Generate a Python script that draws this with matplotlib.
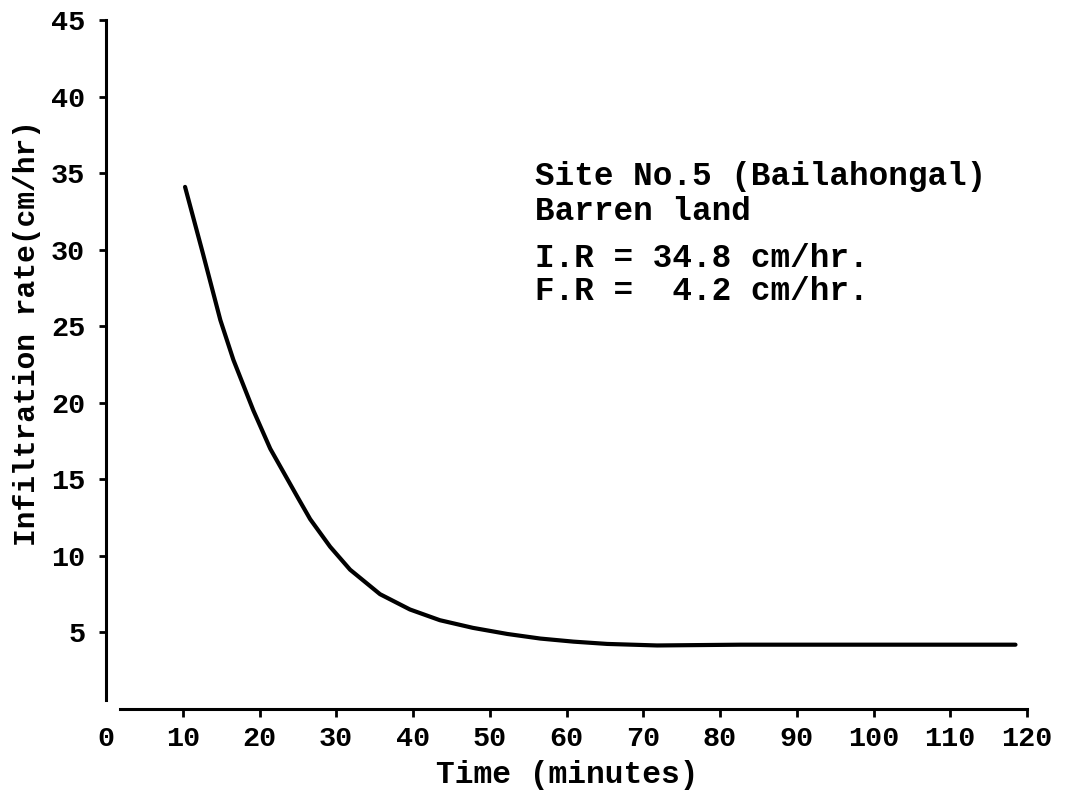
import matplotlib
matplotlib.use("Agg")
import matplotlib.pyplot as plt

# curve
time_min = [10.3, 12.6, 14.9, 16.6, 19.2, 21.4, 25.0, 26.6, 29.2, 31.8, 35.7,
            39.6, 43.5, 47.8, 52.3, 56.6, 60.9, 65.3, 71.8, 82.7, 95.0,
            110.0, 118.5]
infil_rate = [34.1, 29.8, 25.4, 22.8, 19.5, 17.0, 13.8, 12.4, 10.6, 9.1, 7.5,
              6.5, 5.8, 5.3, 4.9, 4.6, 4.4, 4.25, 4.15, 4.2, 4.2,
              4.2, 4.2]

x_ticks = [0, 10, 20, 30, 40, 50, 60, 70, 80, 90, 100, 110, 120]
y_ticks = [5, 10, 15, 20, 25, 30, 35, 40, 45]

note_lines = ["Site No.5 (Bailahongal)", "Barren land",
              "I.R = 34.8 cm/hr.", "F.R =  4.2 cm/hr."]

plt.rcParams['font.family'] = ['Liberation Mono', 'DejaVu Sans Mono']
plt.rcParams['font.weight'] = 'bold'

W, H = 1078, 790
fig = plt.figure(figsize=(W / 100, H / 100), dpi=100)
ax = fig.add_axes([106 / W, 1 - 709 / H, (1027 - 106) / W, (709 - 20) / H])

ax.plot(time_min, infil_rate, color='black', linewidth=3.0,
        solid_capstyle='round', solid_joinstyle='round')

ax.set_xlim(0, 120)
ax.set_ylim(0, 45)
ax.set_xticks(x_ticks)
ax.set_yticks(y_ticks)
ax.set_xticklabels([str(v) for v in x_ticks])
ax.set_yticklabels([str(v) for v in y_ticks])

for side in ['top', 'right']:
    ax.spines[side].set_visible(False)
ax.spines['left'].set_linewidth(2.2)
ax.spines['bottom'].set_linewidth(2.2)
ax.spines['left'].set_bounds(0.6, 45)
ax.spines['bottom'].set_bounds(1.8, 120)

ax.tick_params(axis='x', direction='out', length=6, width=2, pad=6,
               labelsize=20.5)
ax.tick_params(axis='y', direction='out', length=5, width=2, pad=10,
               labelsize=20.5)
ax.xaxis.get_major_ticks()[0].tick1line.set_visible(False)

# axis titles
fig.text(567 / W, 1 - 783 / H, "Time (minutes)", ha='center', va='baseline',
         fontsize=22.5)
fig.text(27 / W, 1 - 333 / H, "Infiltration rate(cm/hr)", ha='center',
         va='center', rotation=90, fontsize=21.3)

# annotation block
baselines = [185, 220, 267, 300]
for txt, yb in zip(note_lines, baselines):
    fig.text(535 / W, 1 - yb / H, txt, ha='left', va='baseline', fontsize=23.5)

fig.savefig("out.png", dpi=100)
